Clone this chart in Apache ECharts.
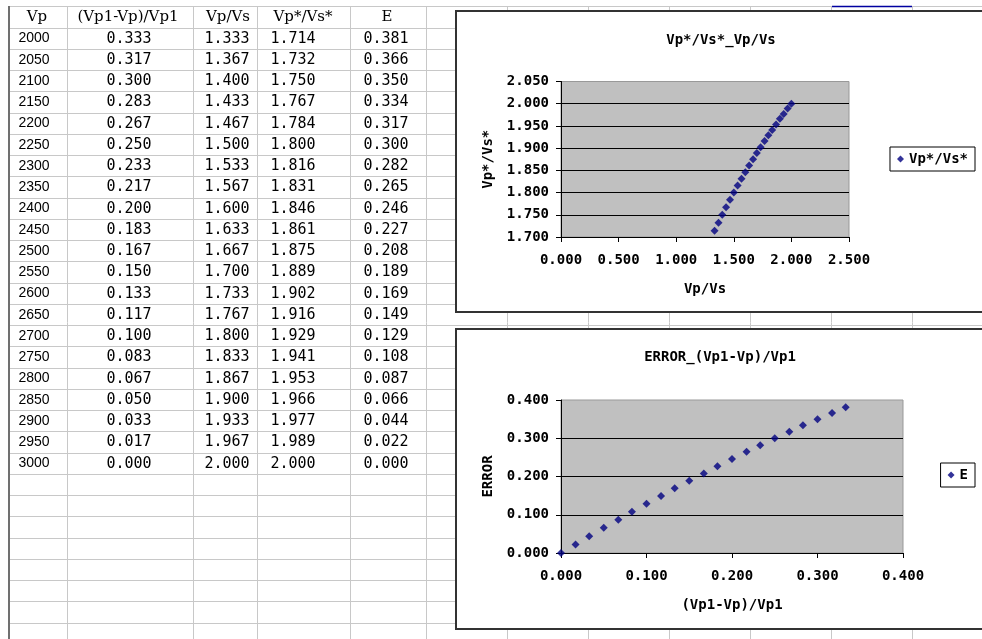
<!DOCTYPE html>
<html>
<head>
<meta charset="utf-8">
<script src="https://cdn.jsdelivr.net/npm/echarts@6/dist/echarts.min.js"></script>
<style>
html,body{margin:0;padding:0;background:#fff;}
#c{width:982px;height:639px;}
</style>
</head>
<body>
<div id="c"></div>
<script>
// ---------- data ----------
const headers = ['Vp', '(Vp1-Vp)/Vp1', 'Vp/Vs', 'Vp*/Vs*', 'E'];
const vp = [2000, 2050, 2100, 2150, 2200, 2250, 2300, 2350, 2400, 2450, 2500, 2550, 2600, 2650, 2700, 2750, 2800, 2850, 2900, 2950, 3000];
const relDiff = [0.333, 0.317, 0.300, 0.283, 0.267, 0.250, 0.233, 0.217, 0.200, 0.183, 0.167, 0.150, 0.133, 0.117, 0.100, 0.083, 0.067, 0.050, 0.033, 0.017, 0.000];
const vpVs = [1.333, 1.367, 1.400, 1.433, 1.467, 1.500, 1.533, 1.567, 1.600, 1.633, 1.667, 1.700, 1.733, 1.767, 1.800, 1.833, 1.867, 1.900, 1.933, 1.967, 2.000];
const vpVsStar = [1.714, 1.732, 1.750, 1.767, 1.784, 1.800, 1.816, 1.831, 1.846, 1.861, 1.875, 1.889, 1.902, 1.916, 1.929, 1.941, 1.953, 1.966, 1.977, 1.989, 2.000];
const errorE = [0.381, 0.366, 0.350, 0.334, 0.317, 0.300, 0.282, 0.265, 0.246, 0.227, 0.208, 0.189, 0.169, 0.149, 0.129, 0.108, 0.087, 0.066, 0.044, 0.022, 0.000];

const chart1Title = 'Vp*/Vs*_Vp/Vs';
const chart1XName = 'Vp/Vs';
const chart1YName = 'Vp*/Vs*';
const chart2Title = 'ERROR_(Vp1-Vp)/Vp1';
const chart2XName = '(Vp1-Vp)/Vp1';
const chart2YName = 'ERROR';

// ---------- layout (styling only) ----------
const W = 982, H = 639;
const SHEET_TOP = 6, HEAD_BOTTOM = 27.5, ROW_H = 21.25;
const colLines = [67, 193, 257, 350, 426, 507, 588, 669, 750, 831, 912];
const headerX = [37, 128, 228, 303, 387];
const cellX = [34, 129, 227, 293, 386];
const gridColor = '#c8c8c8';
const mono = '"DejaVu Sans Mono", "Liberation Mono", monospace';

const g = [];
const rowLineY = [SHEET_TOP];
for (let y = HEAD_BOTTOM; y < H; y += ROW_H) rowLineY.push(y);
rowLineY.forEach(y => {
  const yy = Math.round(y) + 0.5;
  g.push({type: 'line', z: -20, silent: true, shape: {x1: 8, y1: yy, x2: W, y2: yy}, style: {stroke: gridColor, lineWidth: 1}});
});
colLines.forEach(x => {
  g.push({type: 'line', z: -20, silent: true, shape: {x1: x + 0.5, y1: SHEET_TOP, x2: x + 0.5, y2: H}, style: {stroke: gridColor, lineWidth: 1}});
});
g.push({type: 'line', z: -19, silent: true, shape: {x1: 9, y1: SHEET_TOP, x2: 9, y2: H}, style: {stroke: '#707070', lineWidth: 2}});
g.push({type: 'line', z: -19, silent: true, shape: {x1: 832, y1: 6.5, x2: 912, y2: 6.5}, style: {stroke: '#0000a0', lineWidth: 1.5}});

headers.forEach((h, i) => {
  g.push({type: 'text', z: -18, silent: true, x: headerX[i], y: (SHEET_TOP + HEAD_BOTTOM) / 2 + 0.5,
    style: {text: h, align: 'center', verticalAlign: 'middle', font: '15px "DejaVu Serif", serif', fill: '#000'}});
});
const cols = [vp.map(v => String(v)), relDiff.map(v => v.toFixed(3)), vpVs.map(v => v.toFixed(3)), vpVsStar.map(v => v.toFixed(3)), errorE.map(v => v.toFixed(3))];
cols.forEach((col, c) => {
  col.forEach((t, r) => {
    g.push({type: 'text', z: -18, silent: true, x: cellX[c], y: HEAD_BOTTOM + ROW_H * (r + 0.5) + 0.5,
      style: {text: t, align: 'center', verticalAlign: 'middle',
        font: c === 0 ? '14px "Liberation Sans", Arial, sans-serif' : '15px ' + mono, fill: '#000'}});
  });
});
g.push({type: 'rect', z: -10, silent: true, shape: {x: 456, y: 11, width: 560, height: 301}, style: {fill: '#fff', stroke: '#333', lineWidth: 2}});
g.push({type: 'rect', z: -10, silent: true, shape: {x: 456, y: 329, width: 560, height: 300}, style: {fill: '#fff', stroke: '#333', lineWidth: 2}});

const chartText = {color: '#000', fontFamily: mono, fontSize: 14, fontWeight: 'bold'};
const fmt = v => v.toFixed(3);

function xAxisOpt(gridIndex, name, min, max, interval) {
  return {
    type: 'value', gridIndex, min, max, interval,
    name, nameLocation: 'middle', nameGap: 45,
    nameTextStyle: Object.assign({}, chartText),
    axisLine: {show: true, onZero: false, lineStyle: {color: '#000', width: 1}},
    axisTick: {show: true, length: 5, lineStyle: {color: '#000'}},
    axisLabel: Object.assign({margin: 16, formatter: fmt}, chartText),
    splitLine: {show: false}
  };
}
function yAxisOpt(gridIndex, name, min, max, interval) {
  return {
    type: 'value', gridIndex, min, max, interval,
    name, nameLocation: 'middle', nameGap: 66,
    nameTextStyle: Object.assign({}, chartText),
    axisLine: {show: true, onZero: false, lineStyle: {color: '#000', width: 1}},
    axisTick: {show: true, length: 5, lineStyle: {color: '#000'}},
    axisLabel: Object.assign({margin: 12, formatter: fmt}, chartText),
    splitLine: {show: true, showMinLine: false, showMaxLine: false, lineStyle: {color: '#000', width: 1}}
  };
}

const legendBase = {orient: 'vertical', padding: [4, 7], right: 7,
  backgroundColor: '#fff', borderColor: '#000', borderWidth: 1, borderRadius: 0,
  icon: 'diamond', itemWidth: 7, itemHeight: 7, itemGap: 0,
  textStyle: Object.assign({lineHeight: 16}, chartText)};

const option = {
  animation: false,
  backgroundColor: '#fff',
  graphic: {elements: g},
  title: [
    {text: chart1Title, left: 721, top: 33, textAlign: 'center', padding: 0, textStyle: Object.assign({}, chartText)},
    {text: chart2Title, left: 720, top: 350, textAlign: 'center', padding: 0, textStyle: Object.assign({}, chartText)}
  ],
  legend: [
    Object.assign({data: ['Vp*/Vs*'], top: 147}, legendBase),
    Object.assign({data: ['E'], top: 463}, legendBase)
  ],
  grid: [
    {left: 561, top: 81.5, width: 288, height: 155.5, show: true, z: -5,
      backgroundColor: '#c0c0c0', borderColor: '#999', borderWidth: 1},
    {left: 561, top: 400, width: 342, height: 153, show: true, z: -5,
      backgroundColor: '#c0c0c0', borderColor: '#999', borderWidth: 1}
  ],
  xAxis: [
    xAxisOpt(0, chart1XName, 0, 2.5, 0.5),
    xAxisOpt(1, chart2XName, 0, 0.4, 0.1)
  ],
  yAxis: [
    yAxisOpt(0, chart1YName, 1.7, 2.05, 0.05),
    yAxisOpt(1, chart2YName, 0, 0.4, 0.1)
  ],
  series: [
    {name: 'Vp*/Vs*', type: 'scatter', xAxisIndex: 0, yAxisIndex: 0,
      symbol: 'diamond', symbolSize: 8, itemStyle: {color: '#000080'},
      data: vpVs.map((x, i) => [x, vpVsStar[i]])},
    {name: 'E', type: 'scatter', xAxisIndex: 1, yAxisIndex: 1,
      symbol: 'diamond', symbolSize: 8, itemStyle: {color: '#000080'},
      data: relDiff.map((x, i) => [x, errorE[i]])}
  ]
};

const chart = echarts.init(document.getElementById('c'));
chart.setOption(option);
</script>
</body>
</html>
